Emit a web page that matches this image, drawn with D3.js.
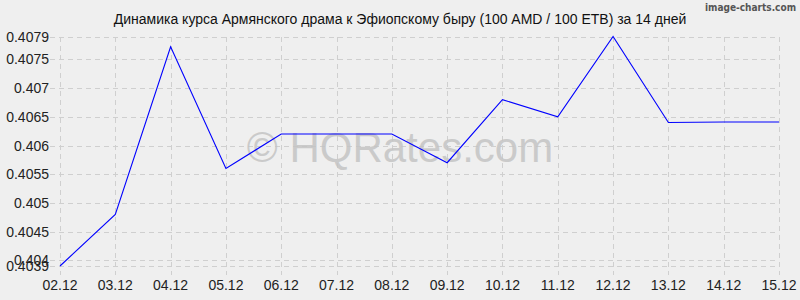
<!DOCTYPE html>
<html>
<head>
<meta charset="utf-8">
<script src="https://cdn.jsdelivr.net/npm/d3@7"></script>
<style>
body { margin: 0; background: #efefef; }
text { font-family: "Liberation Sans", Arial, sans-serif; }
</style>
</head>
<body>
<svg id="chart"></svg>
<script>
var width = 800, height = 300

var dates = ["02.12", "03.12", "04.12", "05.12", "06.12", "07.12", "08.12",
    "09.12", "10.12", "11.12", "12.12", "13.12", "14.12", "15.12"]
var rates = [0.4039, 0.4048, 0.40772, 0.4056, 0.4062, 0.4062, 0.4062,
    0.4057, 0.4068, 0.4065, 0.4079, 0.4064, 0.40641, 0.40641]
var yTicks = [0.4039, 0.404, 0.4045, 0.405, 0.4055, 0.406, 0.4065, 0.407, 0.4075, 0.4079]
var yLabels = ["0.4039", "0.404", "0.4045", "0.405", "0.4055", "0.406", "0.4065", "0.407", "0.4075", "0.4079"]
var title = "Динамика курса Армянского драма к Эфиопскому быру (100 AMD / 100 ETB) за 14 дней"

var svg = d3.select("#chart")
    .attr("width", width)
    .attr("height", height)
    .style("background", "#efefef")

var x = d3.scalePoint()
    .domain(dates)
    .range([60, 779])

var y = d3.scaleLinear()
    .domain([0.4039, 0.4079])
    .range([266, 36.5])

// grid
var grid = svg.append("g")
    .attr("stroke", "#cfcfcf")
    .attr("stroke-width", 1)
    .attr("stroke-dasharray", "5,4")
    .attr("shape-rendering", "crispEdges")

grid.selectAll(".vgrid")
    .data(dates)
    .enter().append("line")
    .attr("x1", function(d) { return Math.round(x(d)) + 0.5 })
    .attr("x2", function(d) { return Math.round(x(d)) + 0.5 })
    .attr("y1", y(0.4079))
    .attr("y2", 275)

grid.selectAll(".hgrid")
    .data(yTicks)
    .enter().append("line")
    .attr("x1", 50)
    .attr("x2", 779)
    .attr("y1", function(d) { return Math.round(y(d)) + 0.5 })
    .attr("y2", function(d) { return Math.round(y(d)) + 0.5 })

// watermark
svg.append("text")
    .attr("x", 400)
    .attr("y", 162)
    .attr("text-anchor", "middle")
    .style("font-size", "42px")
    .style("fill", "#c4c4c4")
    .style("fill-opacity", 0.85)
    .text("© HQRates.com")

// y labels
svg.selectAll(".ylab")
    .data(yTicks)
    .enter().append("text")
    .attr("x", 49)
    .attr("y", function(d) { return y(d) + 5 })
    .attr("text-anchor", "end")
    .style("font-size", "14px")
    .style("fill", "#222")
    .text(function(d, i) { return yLabels[i] })

// x labels
svg.selectAll(".xlab")
    .data(dates)
    .enter().append("text")
    .attr("x", function(d) { return x(d) })
    .attr("y", 290)
    .attr("text-anchor", "middle")
    .style("font-size", "14px")
    .style("fill", "#222")
    .text(function(d) { return d })

// line
var line = d3.line()
    .x(function(d, i) { return x(dates[i]) })
    .y(function(d) { return y(d) })

svg.append("path")
    .datum(rates)
    .attr("d", line)
    .attr("fill", "none")
    .attr("stroke", "#0000ff")
    .attr("stroke-width", 1.1)

// title
svg.append("text")
    .attr("x", 400)
    .attr("y", 24)
    .attr("text-anchor", "middle")
    .style("font-size", "14px")
    .style("fill", "#111")
    .text(title)

svg.append("text")
    .attr("x", 796)
    .attr("y", 11)
    .attr("text-anchor", "end")
    .style("font-family", "'DejaVu Sans Condensed', 'DejaVu Sans', sans-serif")
    .style("font-size", "10px")
    .style("font-weight", "bold")
    .style("fill", "#555")
    .text("image-charts.com")
</script>
</body>
</html>
